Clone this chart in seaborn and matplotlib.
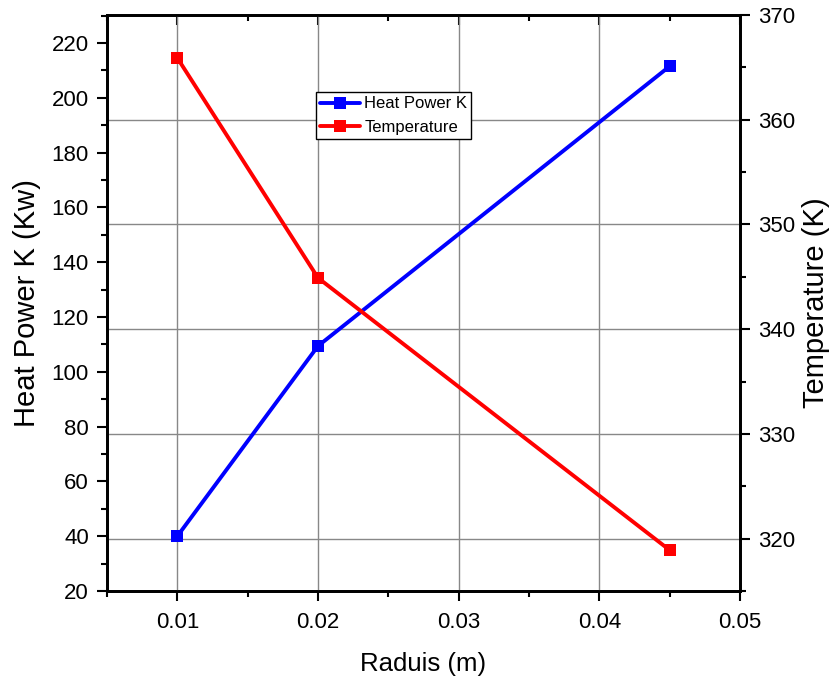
import matplotlib
matplotlib.use("Agg")
import matplotlib.pyplot as plt
from matplotlib.ticker import MultipleLocator, FormatStrFormatter
import seaborn as sns
import pandas as pd

radius = [0.01, 0.02, 0.045]
heat_power = [40.0, 109.4, 211.5]
temperature = [365.9, 344.9, 318.9]
labels = ["Heat Power K", "Temperature"]

sns.set_theme(style="white")
plt.rcParams["font.family"] = ["Liberation Sans", "DejaVu Sans"]
plt.rcParams["text.color"] = "black"
plt.rcParams["axes.labelcolor"] = "black"
plt.rcParams["xtick.color"] = "black"
plt.rcParams["ytick.color"] = "black"

df_h = pd.DataFrame({"r": radius, "v": heat_power})
df_t = pd.DataFrame({"r": radius, "v": temperature})

fig = plt.figure(figsize=(8.34, 6.86), dpi=100)
rect = [107 / 834, 1 - 591 / 686, 633 / 834, 576 / 686]
ax = fig.add_axes(rect)
axT = ax.twinx()          # temperature scale + horizontal grid (behind)
ax.set_zorder(2)
axT.set_zorder(1)
ax.patch.set_visible(False)
axT.patch.set_facecolor("white")

# red line on top layer sharing temperature scale
axR = fig.add_axes(rect, sharex=ax, sharey=axT)
axR.set_zorder(3)
axR.patch.set_visible(False)
axR.axis("off")

lw = 2.8
ms = 9
sns.lineplot(data=df_h, x="r", y="v", ax=ax, color="#0000FF", lw=lw,
             marker="s", markersize=ms, markeredgewidth=0, label=labels[0], legend=False)
sns.lineplot(data=df_t, x="r", y="v", ax=axR, color="#FF0000", lw=lw,
             marker="s", markersize=ms, markeredgewidth=0, label=labels[1], legend=False)

ax.set_xlim(0.005, 0.05)
ax.set_ylim(20, 230.2)
axT.set_ylim(315, 370)

ax.xaxis.set_major_locator(MultipleLocator(0.01))
ax.xaxis.set_minor_locator(MultipleLocator(0.005))
ax.xaxis.set_major_formatter(FormatStrFormatter("%.2f"))
ax.yaxis.set_major_locator(MultipleLocator(20))
ax.yaxis.set_minor_locator(MultipleLocator(10))
axT.yaxis.set_major_locator(MultipleLocator(10))
axT.yaxis.set_minor_locator(MultipleLocator(5))

tick_fs = 16
ax.tick_params(axis="x", which="both", bottom=True, top=False, direction="out",
               labelsize=tick_fs, width=1.5, pad=8)
ax.tick_params(axis="x", which="major", length=7)
ax.tick_params(axis="x", which="minor", length=4)
ax.tick_params(axis="y", which="both", left=True, right=False, direction="out",
               labelsize=tick_fs, width=1.5, pad=6)
ax.tick_params(axis="y", which="major", length=7)
ax.tick_params(axis="y", which="minor", length=4)
axT.tick_params(axis="y", which="both", right=True, left=False, direction="out",
                labelsize=tick_fs, width=1.5, pad=6)
axT.tick_params(axis="y", which="major", length=7)
axT.tick_params(axis="y", which="minor", length=4)

# top ticks inward via secondary axis
secx = ax.secondary_xaxis("top")
secx.xaxis.set_major_locator(MultipleLocator(0.01))
secx.xaxis.set_minor_locator(MultipleLocator(0.005))
secx.tick_params(axis="x", which="both", direction="in", labeltop=False, width=1.5)
secx.tick_params(axis="x", which="major", length=7)
secx.tick_params(axis="x", which="minor", length=4)
secx.spines["top"].set_linewidth(2)

for a in (ax, axT):
    for s in a.spines.values():
        s.set_linewidth(2)
        s.set_color("black")

# grid: horizontal from temperature ticks (behind), vertical from x ticks
axT.grid(True, axis="y", color="#888888", lw=1.0)
ax.set_axisbelow(True)
ax.grid(True, axis="x", color="#888888", lw=1.0)
ax.grid(False, axis="y")

ax.set_xlabel("Raduis (m)", fontsize=18.5, labelpad=14)
ax.set_ylabel("Heat Power K (Kw)", fontsize=21, labelpad=8)
axT.set_ylabel("Temperature (K)", fontsize=21, labelpad=5)

h1, l1 = ax.get_legend_handles_labels()
h2, l2 = axR.get_legend_handles_labels()
leg = ax.legend(h1 + h2, l1 + l2, loc="upper left", bbox_to_anchor=(0.33, 0.866),
                fontsize=12, frameon=True, fancybox=False, framealpha=1,
                edgecolor="black", borderpad=0.25, handlelength=2.4,
                handletextpad=0.25, labelspacing=0.5, borderaxespad=0)
leg.get_frame().set_linewidth(1.0)

fig.savefig("out.png", dpi=100)
